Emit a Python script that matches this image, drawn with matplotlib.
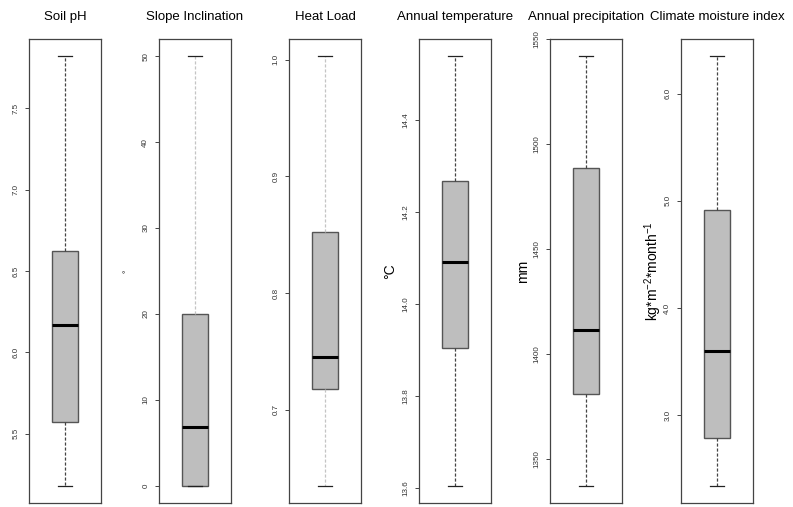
import numpy as np
import matplotlib
matplotlib.use("Agg")
import matplotlib.pyplot as plt

plt.rcParams['font.family'] = ['Liberation Sans', 'DejaVu Sans']
plt.rcParams['mathtext.fontset'] = 'custom'
plt.rcParams['mathtext.rm'] = 'Liberation Sans'
plt.rcParams['mathtext.it'] = 'Liberation Sans'

# variables and their box statistics (whisker low, Q1, median, Q3, whisker high)
titles = ["Soil pH", "Slope Inclination", "Heat Load",
          "Annual temperature", "Annual precipitation", "Climate moisture index"]
ylabels = ["", "°", "", "°C", "mm", r"kg*m$^{-2}$*month$^{-1}$"]
whislo = [5.18, 0.0, 0.635, 13.604, 1337.0, 2.34]
q1 = [5.57, 0.0, 0.7175, 13.904, 1381.0, 2.79]
med = [6.17, 6.9, 0.745, 14.091, 1411.5, 3.60]
q3 = [6.62, 20.0, 0.852, 14.268, 1488.5, 4.91]
whishi = [7.82, 50.0, 1.003, 14.54, 1542.0, 6.35]
ticks = [
    [5.5, 6.0, 6.5, 7.0, 7.5],
    [0, 10, 20, 30, 40, 50],
    [0.7, 0.8, 0.9, 1.0],
    [13.6, 13.8, 14.0, 14.2, 14.4],
    [1350, 1400, 1450, 1500, 1550],
    [3.0, 4.0, 5.0, 6.0],
]
ticklabels = [
    ["5.5", "6.0", "6.5", "7.0", "7.5"],
    ["0", "10", "20", "30", "40", "50"],
    ["0.7", "0.8", "0.9", "1.0"],
    ["13.6", "13.8", "14.0", "14.2", "14.4"],
    ["1350", "1400", "1450", "1500", "1550"],
    ["3.0", "4.0", "5.0", "6.0"],
]
light_whisker = [False, True, True, False, False, False]

W, H = 793, 507
fig = plt.figure(figsize=(W / 100, H / 100), dpi=100)

lefts = [29, 159, 289, 419, 550, 681]
aw = 72
top, bottom = 39, 503
label_pads = [0, 8, 0, 4, 2, 0]

for i in range(6):
    ax = fig.add_axes([lefts[i] / W, 1 - bottom / H, aw / W, (bottom - top) / H])
    stats = [dict(whislo=whislo[i], q1=q1[i], med=med[i], q3=q3[i], whishi=whishi[i], fliers=[])]
    wcol = '#c4c4c4' if light_whisker[i] else '#444444'
    ax.bxp(stats, positions=[1], widths=0.36, capwidths=0.19, patch_artist=True,
           boxprops=dict(facecolor='#bebebe', edgecolor='#555555', linewidth=1.0),
           medianprops=dict(color='black', linewidth=2.2),
           whiskerprops=dict(color=wcol, linestyle=(0, (2.5, 1.5)), linewidth=0.9),
           capprops=dict(color='#222222', linewidth=0.9))
    rng = whishi[i] - whislo[i]
    ax.set_ylim(whislo[i] - 0.04 * rng, whishi[i] + 0.04 * rng)
    ax.set_xlim(0.5, 1.5)
    ax.set_xticks([])
    ax.set_yticks(ticks[i])
    ax.set_yticklabels(ticklabels[i], rotation=90, va='center', fontsize=5.8, color='#333333')
    ax.tick_params(axis='y', length=3, width=0.7, color='#444444', pad=4)
    for s in ax.spines.values():
        s.set_color('#444444')
        s.set_linewidth(0.9)
    ax.set_title(titles[i], fontsize=9.5, pad=14)
    if ylabels[i]:
        ax.set_ylabel(ylabels[i], fontsize=10 if i != 1 else 6, labelpad=label_pads[i])

fig.savefig("out.png", dpi=100)
